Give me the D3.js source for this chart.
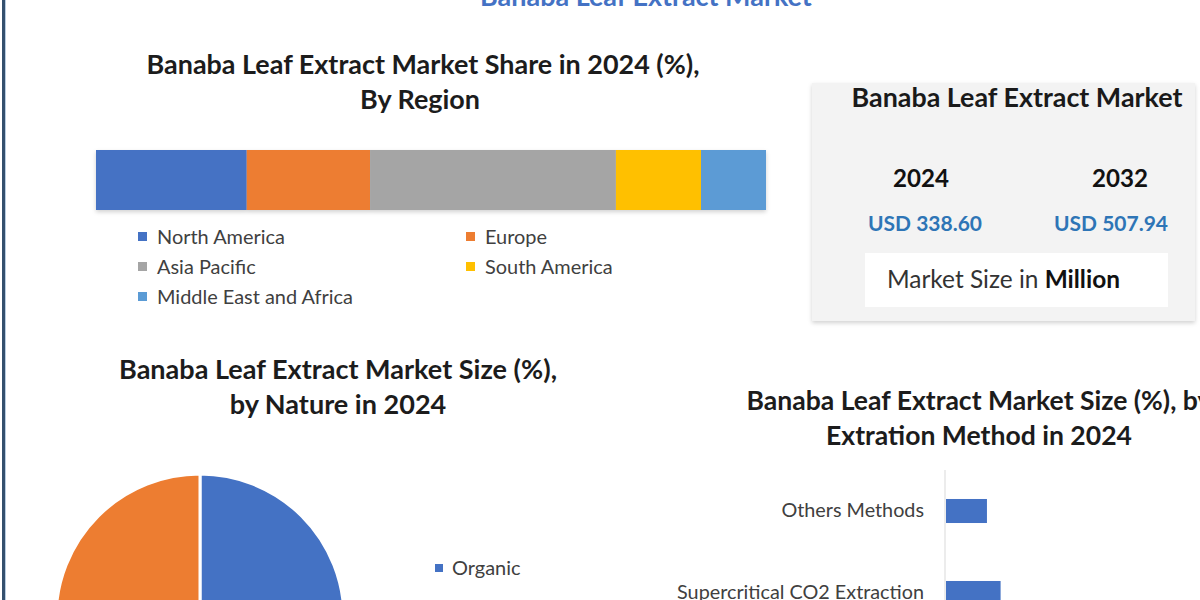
<!DOCTYPE html>
<html>
<head>
<meta charset="utf-8">
<script src="https://cdn.jsdelivr.net/npm/d3@7"></script>
<style>
  html, body { margin: 0; padding: 0; background: #ffffff; }
  svg { display: block; font-family: Lato, "Open Sans", sans-serif; }
</style>
</head>
<body>
<svg id="chart" width="1200" height="600"></svg>
<script>
// ---------------- DATA ----------------
const mainTitle = "Banaba Leaf Extract Market";

const regionTitle = ["Banaba Leaf Extract Market Share in 2024 (%),", "By Region"];
const regions = ["North America", "Europe", "Asia Pacific", "South America", "Middle East and Africa"];
const regionShare = [22.5, 18.4, 36.7, 12.7, 9.7];
const regionColors = ["#4472c4", "#ed7d31", "#a5a5a5", "#ffc000", "#5b9bd5"];

const cardTitle = "Banaba Leaf Extract Market";
const cardYears = ["2024", "2032"];
const cardValues = ["USD 338.60", "USD 507.94"];
const cardUnit = ["Market Size in ", "Million"];

const natureTitle = ["Banaba Leaf Extract Market Size (%),", "by Nature in 2024"];
const natures = ["Organic", "Conventional"];
const natureShare = [50, 50];
const natureColors = ["#4472c4", "#ed7d31"];
const natureLegendShown = ["Organic"];

const methodTitle = ["Banaba Leaf Extract Market Size (%), by", "Extration Method in 2024"];
const methods = ["Others Methods", "Supercritical CO2 Extraction"];
const methodShare = [15, 20];

// ---------------- HELPERS ----------------
const svg = d3.select("#chart");

function fitText(sel, width) {
  const node = sel.node();
  const fs = parseFloat(sel.attr("font-size"));
  const w = node.getComputedTextLength();
  if (w > 0) sel.attr("font-size", (fs * width / w).toFixed(2));
  return sel;
}

// ---------------- FRAME ----------------
svg.append("rect").attr("x", 2).attr("y", 0).attr("width", 3).attr("height", 600).attr("fill", "#34506e");
svg.append("rect").attr("x", 5).attr("y", 0).attr("width", 1).attr("height", 600).attr("fill", "#b9cde2");

// main title (mostly above the top edge)
fitText(svg.append("text").attr("x", 646).attr("y", 6).attr("text-anchor", "middle")
  .attr("font-size", 24).attr("font-weight", 700).attr("fill", "#4472c4").text(mainTitle), 332);

// ---------------- REGION STACKED BAR ----------------
const titleColor = "#1c1c1c";
const t1a = svg.append("text").attr("x", 423).attr("y", 74).attr("text-anchor", "middle")
  .attr("font-size", 24).attr("font-weight", 700).attr("fill", titleColor).text(regionTitle[0]);
fitText(t1a, 553);
svg.append("text").attr("x", 420).attr("y", 109).attr("text-anchor", "middle")
  .attr("font-size", t1a.attr("font-size")).attr("font-weight", 700).attr("fill", titleColor).text(regionTitle[1]);

const xRegion = d3.scaleLinear().domain([0, d3.sum(regionShare)]).range([96, 766]);
const stacked = [];
let acc = 0;
regionShare.forEach((v, i) => { stacked.push({ name: regions[i], x0: acc, x1: acc + v, color: regionColors[i] }); acc += v; });

const defs = svg.append("defs");
const f = defs.append("filter").attr("id", "shadow").attr("x", "-5%").attr("y", "-20%").attr("width", "110%").attr("height", "150%");
f.append("feDropShadow").attr("dx", 0).attr("dy", 2).attr("stdDeviation", 2).attr("flood-color", "#000").attr("flood-opacity", 0.18);

svg.append("g").attr("filter", "url(#shadow)")
  .selectAll("rect").data(stacked).join("rect")
  .attr("x", d => xRegion(d.x0))
  .attr("width", d => xRegion(d.x1) - xRegion(d.x0))
  .attr("y", 150).attr("height", 60)
  .attr("fill", d => d.color);

const legCols = [138, 466];
const legRows = [237, 267, 297];
const rl = svg.append("g").selectAll("g").data(regions).join("g")
  .attr("transform", (d, i) => `translate(${legCols[i % 2]},${legRows[Math.floor(i / 2)]})`);
rl.append("rect").attr("x", 0).attr("y", -5).attr("width", 9).attr("height", 9).attr("fill", (d, i) => regionColors[i]);
const rlt = rl.append("text").attr("x", 19).attr("y", 7).attr("font-size", 19).attr("fill", "#404040").text(d => d);
fitText(d3.select(rlt.nodes()[0]), 128);
rlt.attr("font-size", d3.select(rlt.nodes()[0]).attr("font-size"));

// ---------------- CARD ----------------
const card = svg.append("g");
card.append("rect").attr("x", 812).attr("y", 83).attr("width", 383).attr("height", 238)
  .attr("fill", "#f3f3f3").attr("filter", "url(#shadow)");
fitText(card.append("text").attr("x", 1017).attr("y", 107).attr("text-anchor", "middle")
  .attr("font-size", 24).attr("font-weight", 700).attr("fill", "#1a1a1a").text(cardTitle), 331);
const yrX = [921, 1120];
const valX = [925, 1111];
cardYears.forEach((y, i) => {
  const t = card.append("text").attr("x", yrX[i]).attr("y", 187).attr("text-anchor", "middle")
    .attr("font-size", 24).attr("font-weight", 700).attr("fill", "#111").text(y);
  fitText(t, 56);
});
cardValues.forEach((v, i) => {
  const t = card.append("text").attr("x", valX[i]).attr("y", 231).attr("text-anchor", "middle")
    .attr("font-size", 21).attr("font-weight", 700).attr("fill", "#2e75b6").text(v);
  fitText(t, 114);
});
card.append("rect").attr("x", 865).attr("y", 253).attr("width", 303).attr("height", 54).attr("fill", "#ffffff");
const ut = card.append("text").attr("x", 887).attr("y", 288).attr("font-size", 21).attr("fill", "#333");
ut.append("tspan").text(cardUnit[0]);
ut.append("tspan").attr("font-weight", 700).attr("fill", "#111").text(cardUnit[1]);
fitText(ut, 233);

// ---------------- NATURE PIE ----------------
const t2a = svg.append("text").attr("x", 338).attr("y", 379).attr("text-anchor", "middle")
  .attr("font-size", 24).attr("font-weight", 700).attr("fill", titleColor).text(natureTitle[0]);
fitText(t2a, 438);
svg.append("text").attr("x", 338).attr("y", 414).attr("text-anchor", "middle")
  .attr("font-size", t2a.attr("font-size")).attr("font-weight", 700).attr("fill", titleColor).text(natureTitle[1]);

const pie = d3.pie().sort(null).value(d => d)(natureShare);
const arc = d3.arc().innerRadius(0).outerRadius(144);
svg.append("g").attr("transform", "translate(200,618)")
  .selectAll("path").data(pie).join("path")
  .attr("d", arc).attr("fill", (d, i) => natureColors[i])
  .attr("stroke", "#ffffff").attr("stroke-width", 3);

const nl = svg.append("g").selectAll("g").data(natureLegendShown).join("g")
  .attr("transform", (d, i) => `translate(435,${568 + i * 30})`);
nl.append("rect").attr("x", 0).attr("y", -4).attr("width", 8).attr("height", 8)
  .attr("fill", d => natureColors[natures.indexOf(d)]);
nl.append("text").attr("x", 17).attr("y", 7).attr("font-size", rlt.attr("font-size")).attr("fill", "#404040").text(d => d);

// ---------------- METHOD BARS ----------------
const t3b = svg.append("text").attr("x", 979).attr("y", 445).attr("text-anchor", "middle")
  .attr("font-size", 24).attr("font-weight", 700).attr("fill", titleColor).text(methodTitle[1]);
fitText(t3b, 306);
svg.append("text").attr("x", 979).attr("y", 410).attr("text-anchor", "middle")
  .attr("font-size", t3b.attr("font-size")).attr("font-weight", 700).attr("fill", titleColor).text(methodTitle[0]);

const xM = d3.scaleLinear().domain([0, 100]).range([945, 1218]);
const yM = d3.scaleBand().domain(methods).range([470, 634]).paddingInner(0.707).paddingOuter(0.3535);

svg.append("line").attr("x1", 945).attr("x2", 945).attr("y1", 470).attr("y2", 634)
  .attr("stroke", "#d9d9d9").attr("stroke-width", 1);
svg.append("g").selectAll("rect").data(methods).join("rect")
  .attr("x", xM(0) + 1).attr("y", d => yM(d))
  .attr("width", (d, i) => xM(methodShare[i]) - xM(0))
  .attr("height", yM.bandwidth())
  .attr("fill", "#4472c4");
svg.append("g").selectAll("text").data(methods).join("text")
  .attr("x", 924).attr("y", d => yM(d) + yM.bandwidth() / 2 + 6)
  .attr("text-anchor", "end").attr("font-size", 19.8).attr("fill", "#404040").text(d => d);
</script>
</body>
</html>
